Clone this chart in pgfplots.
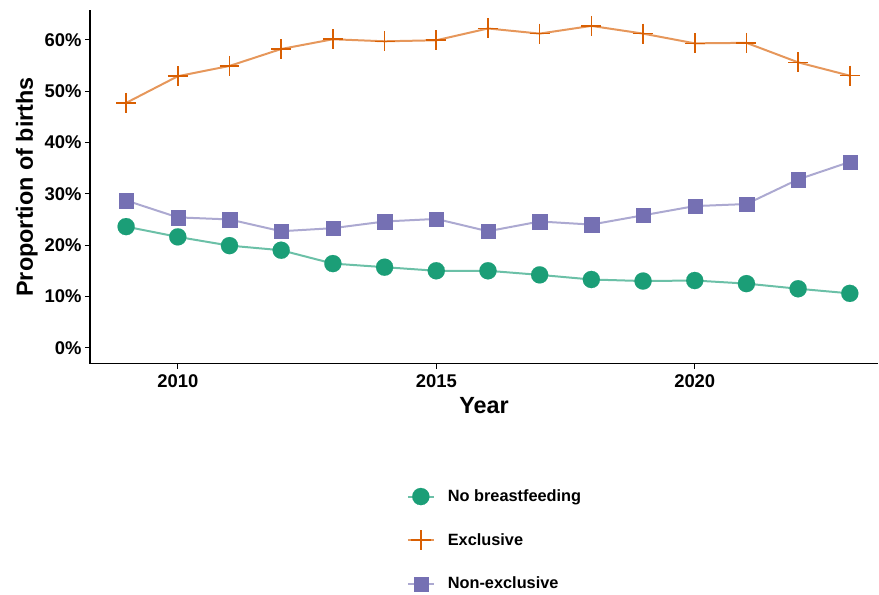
\documentclass[border=0pt]{standalone}
\usepackage{pgfplots}
\pgfplotsset{compat=1.18}
\usepackage{fontspec}
\setmainfont{Liberation Sans}
\definecolor{dgreen}{HTML}{1B9E77}
\definecolor{dorange}{HTML}{D95F02}
\definecolor{dpurple}{HTML}{7570B3}
\pgfplotstableread{
year nobf excl nonex
2009 23.6 47.7 28.7
2010 21.6 52.9 25.4
2011 19.9 54.9 25.0
2012 19.0 58.2 22.7
2013 16.4 60.1 23.3
2014 15.7 59.7 24.6
2015 15.0 59.9 25.1
2016 15.0 62.2 22.7
2017 14.2 61.2 24.6
2018 13.3 62.7 24.0
2019 13.0 61.2 25.8
2020 13.1 59.3 27.6
2021 12.5 59.4 28.0
2022 11.5 55.6 32.8
2023 10.6 53.0 36.2
}\datatable
\begin{document}
\begin{tikzpicture}
\begin{axis}[
  name=ax,
  scale only axis,
  width=789bp, height=354bp,
  xmin=2008.3, xmax=2023.55,
  ymin=-3.1, ymax=65.8,
  axis x line=bottom, axis y line=left,
  axis line style={-, line width=1.5bp, black},
  tick align=outside,
  major tick length=5bp,
  tick style={line width=1bp, black},
  xtick={2010,2015,2020},
  xticklabels={2010,2015,2020},
  ytick={0,10,20,30,40,50,60},
  yticklabel={\pgfmathprintnumber{\tick}\%},
  /pgf/number format/assume math mode=true,
  ticklabel style={font=\bfseries\fontsize{18.5}{18.5}\selectfont},
  xticklabel style={yshift=-2bp},
  xlabel={Year},
  ylabel={Proportion of births},
  label style={font=\bfseries\fontsize{23.5}{23.5}\selectfont},
  xlabel style={yshift=-3bp},
  ylabel style={yshift=0bp},
  legend style={
    draw=none, fill=none,
    at={(axis description cs:0.398,-0.345)}, anchor=north west,
    font=\bfseries\fontsize{16.4}{16.4}\selectfont,
    row sep=25bp,
    legend cell align=left,
    /tikz/every odd column/.append style={column sep=11bp},
  },
  legend image code/.code={%
    \draw[mark repeat=2,mark phase=2] plot coordinates {(0bp,0bp)(13bp,0bp)(26bp,0bp)};},
]
\addplot[line width=2bp, color=dgreen!65!white, mark=*, mark size=8.6bp,
  mark options={fill=dgreen, draw=dgreen, line width=0.1bp}] table[x=year,y=nobf] {\datatable};
\addlegendentry{No breastfeeding}
\addplot[line width=2bp, color=dorange!65!white, mark=+, mark size=10bp,
  mark options={color=dorange, line width=1.6bp}] table[x=year,y=excl] {\datatable};
\addlegendentry{Exclusive}
\addplot[line width=2bp, color=dpurple!60!white, mark=square*, mark size=7.2bp,
  mark options={fill=dpurple, draw=dpurple, line width=0.1bp}] table[x=year,y=nonex] {\datatable};
\addlegendentry{Non-exclusive}
\end{axis}
\path ([xshift=-90bp,yshift=-228bp]ax.south west) rectangle ([yshift=10bp]ax.north east);
\end{tikzpicture}
\end{document}
